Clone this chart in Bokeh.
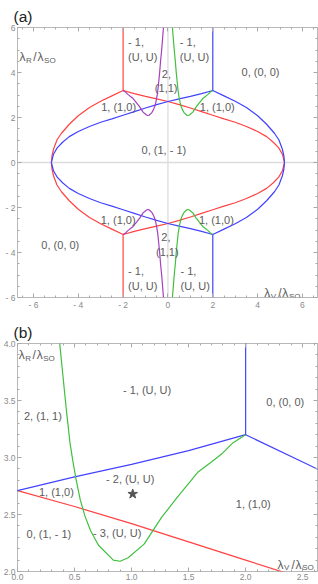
from bokeh.plotting import figure
from bokeh.layouts import column
from bokeh.models import Range1d, Span, LinearAxis, FixedTicker
from bokeh.core.properties import value
from bokeh.embed import file_html
from bokeh.resources import INLINE

# ---------------- data: upper half (λR > 0); lower half is its mirror in λR ----------------
red_x = [-5.2, -5.17, -5.1, -4.95, -4.75, -4.4, -4.0, -3.5, -3.0, -2.5, -2.0,
         -1.5, -1.0, -0.5, 0.0, 0.5, 1.0, 1.5, 2.0, 2.5, 3.0, 3.5, 4.0, 4.4, 4.7, 4.94, 5.1, 5.2]
red_y = [0.0, 0.3, 0.6, 1.0, 1.3, 1.7, 2.08, 2.44, 2.72, 2.96, 3.2,
         3.06, 2.94, 2.83, 2.71, 2.57, 2.42, 2.26, 2.1, 1.94, 1.79, 1.6, 1.38, 1.15, 0.9, 0.65, 0.38, 0.0]
blue_x = [5.2, 5.17, 5.1, 4.95, 4.75, 4.4, 4.0, 3.5, 3.0, 2.5, 2.0,
          1.5, 1.0, 0.5, 0.0, -0.5, -1.0, -1.5, -2.0, -2.5, -3.0, -3.5, -4.0, -4.4, -4.7, -4.94, -5.1, -5.2]
blue_y = [0.0, 0.3, 0.6, 1.0, 1.3, 1.7, 2.08, 2.44, 2.72, 2.96, 3.2,
          3.06, 2.94, 2.83, 2.71, 2.57, 2.42, 2.26, 2.1, 1.94, 1.79, 1.6, 1.38, 1.15, 0.9, 0.65, 0.38, 0.0]
red_vline_x = [-2.0, -2.0]
red_vline_y = [3.2, 6.0]
blue_vline_x = [2.0, 2.0]
blue_vline_y = [3.2, 6.0]
green_x = [2.0, 1.89, 1.8, 1.7, 1.58, 1.4, 1.26, 1.11, 0.97, 0.9, 0.84, 0.71, 0.64, 0.59,
           0.55, 0.515, 0.485, 0.46, 0.43, 0.40, 0.37, 0.33, 0.28, 0.24, 0.2]
green_y = [3.2, 3.13, 3.04, 2.96, 2.87, 2.65, 2.47, 2.24, 2.12, 2.09, 2.10, 2.23, 2.36, 2.49,
           2.63, 2.80, 2.97, 3.13, 3.4, 3.7, 4.0, 4.5, 5.0, 5.5, 6.0]
purple_x = [-2.0, -1.89, -1.8, -1.7, -1.58, -1.4, -1.26, -1.11, -0.97, -0.9, -0.84, -0.71, -0.64, -0.59,
            -0.55, -0.515, -0.485, -0.46, -0.43, -0.40, -0.37, -0.33, -0.28, -0.24, -0.2]
purple_y = [3.2, 3.13, 3.04, 2.96, 2.87, 2.65, 2.47, 2.24, 2.12, 2.09, 2.10, 2.23, 2.36, 2.49,
            2.63, 2.80, 2.97, 3.13, 3.4, 3.7, 4.0, 4.5, 5.0, 5.5, 6.0]
star_x = [1.01]
star_y = [2.68]

# tick labels
a_xticks = [-6, -4, -2, 0, 2, 4, 6]
a_xtick_labels = ["- 6", "- 4", "- 2", "0", "2", "4", "6"]
a_yticks = [-6, -4, -2, 0, 2, 4, 6]
a_ytick_labels = ["- 6", "- 4", "- 2", "0", "2", "4", "6"]
b_xticks = [0.0, 0.5, 1.0, 1.5, 2.0, 2.5]
b_xtick_labels = ["0.0", "0.5", "1.0", "1.5", "2.0", "2.5"]
b_yticks = [2.0, 2.5, 3.0, 3.5, 4.0]
b_ytick_labels = ["2.0", "2.5", "3.0", "3.5", "4.0"]

# region labels: (text, x, y, align)
a_labels = [
    ("- 1,", -1.78, 5.34, "left"), ("(U, U)", -1.78, 4.67, "left"),
    ("- 1,", 0.53, 5.34, "left"), ("(U, U)", 0.53, 4.67, "left"),
    ("2,", -0.07, 3.95, "center"), ("(1,1)", -0.08, 3.33, "center"),
    ("0, (0, 0)", 4.13, 4.02, "center"),
    ("1, (1,0)", 2.2, 2.46, "center"), ("1, (1,0)", -2.2, 2.46, "center"),
    ("0, (1, - 1)", -0.18, 0.55, "center"),
    ("1, (1,0)", -2.22, -2.55, "center"), ("1, (1,0)", 2.16, -2.55, "center"),
    ("0, (0, 0)", -4.8, -3.68, "center"),
    ("- 1,", -1.78, -4.84, "left"), ("(U, U)", -1.78, -5.47, "left"),
    ("- 1,", 0.56, -4.84, "left"), ("(U, U)", 0.56, -5.47, "left"),
    ("2,", -0.09, -3.30, "center"), ("(1,1)", -0.03, -3.96, "center"),
]
b_labels = [
    ("2, (1, 1)", 0.223, 3.36, "center"),
    ("- 1, (U, U)", 1.136, 3.59, "center"),
    ("0, (0, 0)", 2.347, 3.49, "center"),
    ("1, (1,0)", 0.341, 2.70, "center"),
    ("- 2, (U, U)", 0.988, 2.81, "center"),
    ("0, (1, - 1)", 0.275, 2.33, "center"),
    ("- 3, (U, U)", 0.874, 2.34, "center"),
    ("1, (1,0)", 2.067, 2.59, "center"),
]

FRAME = "#b8b8b8"
TICK = "#a8a8a8"
TICKLAB = "#8a8a8a"
TXT = "#5c5c5c"
FONT = "Liberation Sans"
RED, BLUE, GREEN, PURPLE = "#ff4242", "#4242ff", "#3fc03f", "#a53fbf"


def minor_list(lo, hi, step, majors):
    n0 = int(round(lo / step)) - 1
    n1 = int(round(hi / step)) + 1
    out = []
    for k in range(n0, n1 + 1):
        v = round(k * step, 6)
        if lo <= v <= hi and all(abs(v - m) > 1e-6 for m in majors):
            out.append(v)
    return out


def build(title, width, height, xr, yr, borders, xt, xl, xstep, yt, yl, ystep):
    p = figure(width=width, height=height, x_range=Range1d(*xr), y_range=Range1d(*yr),
               x_axis_type=None, y_axis_type=None, output_backend="svg", toolbar_location=None,
               min_border_left=borders[0], min_border_right=borders[1],
               min_border_top=borders[2], min_border_bottom=borders[3], title=title)
    p.title.align = "left"
    p.title.offset = -4
    p.title.standoff = 6
    p.title.text_font = FONT
    p.title.text_font_size = "15.5px"
    p.title.text_font_style = "normal"
    p.title.text_color = "#222222"
    p.outline_line_color = FRAME
    p.background_fill_color = "white"
    p.border_fill_color = "white"
    xminor = minor_list(xr[0], xr[1], xstep, xt)
    yminor = minor_list(yr[0], yr[1], ystep, yt)
    for loc, ticks, minors, labs in [("below", xt, xminor, xl), ("above", xt, xminor, None),
                                     ("left", yt, yminor, yl), ("right", yt, yminor, None)]:
        ax = LinearAxis(ticker=FixedTicker(ticks=ticks, minor_ticks=minors))
        ax.axis_line_color = None
        ax.major_tick_in = 4
        ax.major_tick_out = 0
        ax.minor_tick_in = 2
        ax.minor_tick_out = 0
        ax.major_tick_line_color = TICK
        ax.minor_tick_line_color = TICK
        if labs is not None:
            ax.major_label_overrides = dict(zip(ticks, labs))
            ax.major_label_text_font = FONT
            ax.major_label_text_font_size = "8.5px"
            ax.major_label_text_color = TICKLAB
            ax.major_label_standoff = 2
        else:
            ax.major_label_text_font_size = "0px"
            ax.major_label_text_alpha = 0
            ax.major_label_standoff = 0
        p.add_layout(ax, loc)
    return p


def curves(p):
    for xs, ys, c in [(red_x, red_y, RED), (blue_x, blue_y, BLUE), (green_x, green_y, GREEN),
                      (purple_x, purple_y, PURPLE), (red_vline_x, red_vline_y, RED),
                      (blue_vline_x, blue_vline_y, BLUE)]:
        p.line(xs, ys, line_color=c, line_width=1.2)
        p.line(xs, [-v for v in ys], line_color=c, line_width=1.2)


def region_labels(p, labels):
    for s, x, y, al in labels:
        p.text(x=[x], y=[y], text=[s], text_align=al, text_baseline="middle",
               text_font=value(FONT), text_font_size=value("11px"), text_color=TXT)


def ratio_label(p, x, y, sub1, sub2):
    runs = [("λ", 0.0, 0, "12px"), (sub1, 6.5, 3, "8px"), ("/", 13.8, 0, "12px"),
            ("λ", 18.0, 0, "12px"), (sub2, 24.6, 3, "8px")]
    for s, dx, dy, fs in runs:
        p.text(x=[x], y=[y], text=[s], x_offset=dx, y_offset=dy, text_align="left",
               text_baseline="alphabetic", text_font=value(FONT), text_font_size=value(fs),
               text_color=TXT)


# ---------------- panel (a) ----------------
a_xr = (-6.71, 6.67)
a_yr = (-6.0, 6.0)
pa = build("(a)", 318, 312, a_xr, a_yr, (16, 1, 27, 14),
           a_xticks, a_xtick_labels, 0.5, a_yticks, a_ytick_labels, 0.5)
pa.add_layout(Span(location=0, dimension="height", line_color="#dcdcdc", line_width=1.3, level="underlay"))
pa.add_layout(Span(location=0, dimension="width", line_color="#dcdcdc", line_width=1.3, level="underlay"))
curves(pa)
region_labels(pa, a_labels)
ratio_label(pa, -6.62, 4.67, "R", "SO")
ratio_label(pa, 4.3, -5.8, "V", "SO")

# ---------------- panel (b) ----------------
b_xr = (0.0, 2.63)
b_yr = (2.0, 4.0)
pb = build("(b)", 318, 272, b_xr, b_yr, (16, 1, 31, 13),
           b_xticks, b_xtick_labels, 0.1, b_yticks, b_ytick_labels, 0.1)
curves(pb)
pb.scatter(star_x, star_y, marker="star", size=10, fill_color="#555555", line_color="#555555")
region_labels(pb, b_labels)
ratio_label(pb, 0.01, 3.895, "R", "SO")
ratio_label(pb, 2.28, 2.06, "V", "SO")

layout = column(pa, pb, spacing=0)
open("out.html", "w").write(file_html(layout, INLINE))
